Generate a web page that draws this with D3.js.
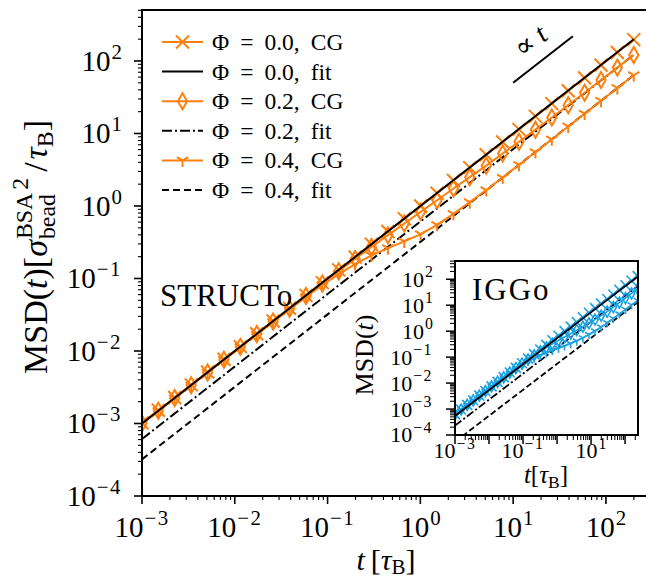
<!DOCTYPE html>
<html><head><meta charset="utf-8">
<script src="https://cdn.jsdelivr.net/npm/d3@7"></script>
<style>body{margin:0;background:#fff}svg{display:block}</style>
</head><body><svg id="c" width="646" height="581"></svg>
<script>
// ---------- data ----------
const tMain = [0.001,0.0015,0.00225,0.00339,0.00509,0.00764,0.01148,0.01726,0.02588,0.0389,0.0585,0.0877,0.1318,0.198,0.297,0.447,0.671,1.007,1.514,2.275,3.41,5.13,7.71,11.56,17.38,26.1,39.2,58.9,88.5,132.7,199.5];
const cgPhi00 = [0.00102,0.00152,0.00228,0.00341,0.00512,0.00768,0.0115,0.0173,0.0259,0.0389,0.0584,0.0876,0.1315,0.197,0.296,0.445,0.668,1.0,1.5,2.25,3.38,5.08,7.62,11.4,17.2,25.8,38.8,58.2,87.5,131,197];
const cgPhi02 = [0.00100,0.00150,0.00225,0.00338,0.00507,0.0076,0.0114,0.0171,0.0256,0.0383,0.0572,0.0851,0.126,0.186,0.272,0.396,0.574,0.83,1.2,1.74,2.5,3.6,5.3,7.7,11.3,16.6,24.6,36.5,54.5,81,121];
const cgPhi04 = [0.00099,0.00149,0.00223,0.00335,0.00502,0.00752,0.0113,0.0169,0.0252,0.0375,0.0555,0.0808,0.115,0.158,0.208,0.262,0.325,0.41,0.55,0.78,1.13,1.66,2.47,3.7,5.55,8.3,12.5,18.8,28.3,42.5,64];
const fitT = [0.001, 200];
const fitPhi00 = [0.001, 200];
const fitPhi02 = [0.00061, 122];
const fitPhi04 = [0.00032, 64];
const slopeT = [10, 44];
const slopeV = [50, 220];
// inset (IGGo)
const tInset = [0.001,0.00151,0.00228,0.00344,0.0052,0.00785,0.01186,0.0179,0.027,0.0408,0.0617,0.0931,0.1406,0.2123,0.3206,0.4842,0.7311,1.104,1.667,2.518,3.802,5.741,8.67,13.09,19.77,29.85,45.08,68.08,102.8,155.2,234.4];
const insCg00 = [0.00064,0.00096,0.00145,0.00218,0.00329,0.00496,0.0075,0.0113,0.017,0.0256,0.0386,0.058,0.0874,0.131,0.197,0.296,0.445,0.668,1.0,1.5,2.26,3.4,5.1,7.7,11.5,17.3,26,39,58.5,88,132];
const insCg02 = [0.00064,0.00096,0.00145,0.00217,0.00327,0.00491,0.0074,0.0111,0.0165,0.0255,0.038,0.056,0.081,0.117,0.167,0.235,0.325,0.445,0.6,0.81,1.09,1.48,2.02,2.8,3.95,5.7,8.4,12.5,18.8,28.3,42.7];
const insCg04 = [0.00064,0.00096,0.00145,0.00218,0.00328,0.00493,0.0074,0.0111,0.0166,0.0245,0.035,0.05,0.068,0.09,0.115,0.145,0.18,0.22,0.27,0.335,0.42,0.55,0.74,1.02,1.45,2.1,3.1,4.6,6.9,10.3,15.4];
const insFitT = [0.001, 234.4];
const insFit00 = [0.00054, 126.6];
const insFit02 = [0.00023, 54];
const insFit04 = [0.000055, 12.9];
const xTickExp = [-3,-2,-1,0,1,2];
const yTickExp = [-4,-3,-2,-1,0,1,2];
const insXTickExp = [-3,-1,1];
const insYTickExp = [-4,-3,-2,-1,0,1,2];
const legendPhi = ["0.0","0.0","0.2","0.2","0.4","0.4"];
const legendKind = ["CG","fit","CG","fit","CG","fit"];

// ---------- setup ----------
const FONT = "'Liberation Serif', 'DejaVu Serif', serif";
const ORANGE = "#ff7f0e";
const BLUE = "#1ba1e2";
const svg = d3.select("#c").style("font-family", FONT);

const M = {l:142, r:647, t:10, b:496};
const x = d3.scaleLog().domain([1e-3, 277]).range([M.l, M.r]);
const y = d3.scaleLog().domain([1e-4, 505]).range([M.b, M.t]);

const I = {l:455, r:638, t:261, b:435};
const xi = d3.scaleLog().domain([1e-3, 240]).range([I.l, I.r]);
const yi = d3.scaleLog().domain([1e-4, 505]).range([I.b, I.t]);

svg.append("defs").call(d=>{
  d.append("clipPath").attr("id","cm").append("rect").attr("x",M.l).attr("y",M.t).attr("width",M.r-M.l).attr("height",M.b-M.t);
  d.append("clipPath").attr("id","ci").append("rect").attr("x",I.l).attr("y",I.t).attr("width",I.r-I.l).attr("height",I.b-I.t);
});

function markerPath(type, s){
  const h = s/2;
  if(type==="x") return `M${-h},${-h}L${h},${h}M${-h},${h}L${h},${-h}`;
  if(type==="d") return `M0,${-h}L${h*0.58},0L0,${h}L${-h*0.58},0Z`;
  if(type==="tri") return `M0,0L0,${h}M0,0L${-h*0.87},${-h*0.5}M0,0L${h*0.87},${-h*0.5}`;
}

function drawSeries(g, xs, ys, tArr, vArr, color, mtype, msize, lw){
  const line = d3.line().x((d,i)=>xs(tArr[i])).y(d=>ys(d));
  g.append("path").attr("d", line(vArr)).attr("fill","none").attr("stroke",color).attr("stroke-width",lw);
  g.selectAll(null).data(vArr).join("path")
    .attr("transform",(d,i)=>`translate(${xs(tArr[i])},${ys(d)})`)
    .attr("d", markerPath(mtype, msize)).attr("fill","none").attr("stroke",color).attr("stroke-width",lw);
}
function drawFit(g, xs, ys, tArr, vArr, dash, lw){
  const line = d3.line().x((d,i)=>xs(tArr[i])).y(d=>ys(d));
  g.append("path").attr("d", line(vArr)).attr("fill","none").attr("stroke","#000").attr("stroke-width",lw)
   .attr("stroke-dasharray", dash);
}
function powLabel(g, xp, yp, exp, fs, anchor){
  const t = g.append("text").attr("x",xp).attr("y",yp).attr("font-size",fs).attr("text-anchor",anchor).attr("fill","#000");
  t.append("tspan").text("10");
  t.append("tspan").attr("dy",-fs*0.42).attr("dx",1).attr("font-size",fs*0.72).attr("letter-spacing",exp<0?1.5:0)
   .text(exp<0?"−"+(-exp):String(exp));
}
function drawAxes(g, xs, ys, B, xExp, yExp, fs, maj, mnr, lw, xLabDy, yLabDx){
  const [x0,x1] = xs.domain(); const [y0,y1] = ys.domain();
  for(let e=Math.floor(Math.log10(x0)); e<=Math.ceil(Math.log10(x1)); e++){
    for(let k=1;k<10;k++){
      const v = k*Math.pow(10,e); if(v<x0*0.999||v>x1) continue;
      g.append("line").attr("x1",xs(v)).attr("x2",xs(v)).attr("y1",B.b).attr("y2",B.b+(k===1?maj:mnr)).attr("stroke","#000").attr("stroke-width",k===1?lw:lw*0.7);
    }
  }
  for(let e=Math.floor(Math.log10(y0)); e<=Math.ceil(Math.log10(y1)); e++){
    for(let k=1;k<10;k++){
      const v = k*Math.pow(10,e); if(v<y0*0.999||v>y1) continue;
      g.append("line").attr("y1",ys(v)).attr("y2",ys(v)).attr("x1",B.l).attr("x2",B.l-(k===1?maj:mnr)).attr("stroke","#000").attr("stroke-width",k===1?lw:lw*0.7);
    }
  }
  xExp.forEach(e=>powLabel(g, xs(Math.pow(10,e)), B.b+xLabDy, e, fs, "middle"));
  yExp.forEach(e=>powLabel(g, B.l-yLabDx, ys(Math.pow(10,e))+fs*0.34, e, fs, "end"));
}
function richText(g, pieces, xp, yp, fs, anchor){
  const grp = g.append("g");
  let cx = 0;
  pieces.forEach(p=>{
    if(p.stack){
      let w=0;
      p.stack.forEach(q=>{
        const el = grp.append("text").attr("font-size",fs*(q.s||1)).attr("font-style",q.it?"italic":"normal").attr("x",cx).attr("y",q.sh||0).text(q.t);
        w = Math.max(w, el.node().getComputedTextLength());
      });
      cx += w + (p.gap||0);
    } else {
      const el = grp.append("text").attr("font-size",fs*(p.s||1)).attr("font-style",p.it?"italic":"normal").attr("x",cx+(p.dx||0)).attr("y",p.sh||0).text(p.t);
      cx += el.node().getComputedTextLength() + (p.dx||0) + (p.gap||0);
    }
  });
  const off = anchor==="middle" ? -cx/2 : (anchor==="end"? -cx : 0);
  grp.attr("transform", `translate(${xp+off},${yp})`);
  return grp;
}

// ---------- main plot ----------
const gm = svg.append("g");
const gd = gm.append("g").attr("clip-path","url(#cm)");
drawFit(gd, x, y, fitT, fitPhi04, "7,4", 2);
drawFit(gd, x, y, fitT, fitPhi02, "10,3,2,3", 2);
drawSeries(gd, x, y, tMain, cgPhi04, ORANGE, "tri", 13, 2);
drawSeries(gd, x, y, tMain, cgPhi02, ORANGE, "d", 16, 2);
drawSeries(gd, x, y, tMain, cgPhi00, ORANGE, "x", 13, 2);
drawFit(gd, x, y, fitT, fitPhi00, null, 2);

// slope marker
gm.append("path").attr("d", d3.line().x((d,i)=>x(slopeT[i])).y(d=>y(d))(slopeV)).attr("stroke","#000").attr("stroke-width",2).attr("fill","none");
const ang = Math.atan2(y(slopeV[1])-y(slopeV[0]), x(slopeT[1])-x(slopeT[0]))*180/Math.PI;
{
  const mx = (x(slopeT[0])+x(slopeT[1]))/2 - 7, my = (y(slopeV[0])+y(slopeV[1]))/2 - 11;
  const tt = gm.append("text").attr("transform",`translate(${mx},${my}) rotate(${ang})`).attr("text-anchor","middle").attr("font-size",28);
  tt.append("tspan").text("∝ ");
  tt.append("tspan").attr("font-style","italic").text("t");
}

// frame
gm.append("path").attr("d",`M${M.l},${M.b}L${M.l},${M.t}L${M.r},${M.t}L${M.r},${M.b}Z`).attr("fill","none").attr("stroke","#000").attr("stroke-width",2);
drawAxes(gm, x, y, M, xTickExp, yTickExp, 29, 8, 4, 1.6, 41, 20);

// axis labels
richText(gm, [{t:"t",it:1,gap:6},{t:"["},{t:"τ",it:1},{t:"B",s:0.7,sh:4},{t:"]"}], 386, 570, 30, "middle");
richText(gm.append("g").attr("transform","translate(47,0) rotate(-90)"),
  [{t:"MSD("},{t:"t",it:1},{t:")["},{t:"σ",it:1,gap:1},
   {stack:[{t:"BSA",s:0.7,sh:-15},{t:"bead",s:0.7,sh:8}],gap:3},
   {t:"2",s:0.7,sh:-19,gap:6},{t:"/",gap:3},{t:"τ",it:1},{t:"B",s:0.7,sh:6},{t:"]"}], -247, 0, 34, "middle");

gm.append("text").attr("x",160).attr("y",306).attr("font-size",31).text("STRUCTo");

// legend
const lg = svg.append("g");
const legSpec = [
  {type:"cg", m:"x"},{type:"fit",dash:null},{type:"cg",m:"d"},{type:"fit",dash:"10,3,2,3"},{type:"cg",m:"tri"},{type:"fit",dash:"7,4"}];
legSpec.forEach((s,i)=>{
  const yy = 42 + i*29.6;
  const g = lg.append("g");
  if(s.type==="cg"){
    g.append("line").attr("x1",162).attr("x2",203).attr("y1",yy).attr("y2",yy).attr("stroke",ORANGE).attr("stroke-width",2);
    g.append("path").attr("transform",`translate(182.5,${yy})`).attr("d",markerPath(s.m, s.m==="d"?16:13)).attr("fill","none").attr("stroke",ORANGE).attr("stroke-width",2);
  } else {
    g.append("line").attr("x1",162).attr("x2",203).attr("y1",yy).attr("y2",yy).attr("stroke","#000").attr("stroke-width",2).attr("stroke-dasharray",s.dash);
  }
  richText(g, [{t:"Φ",gap:11},{t:"=",gap:11},{t:legendPhi[i]+",",gap:11},{t:legendKind[i]}], 212, yy+8, 23.5, "start");
});

// ---------- inset ----------
const gi = svg.append("g");
gi.append("rect").attr("x",I.l).attr("y",I.t).attr("width",I.r-I.l).attr("height",I.b-I.t).attr("fill","#fff");
const gid = gi.append("g").attr("clip-path","url(#ci)");
drawFit(gid, xi, yi, insFitT, insFit04, "6,3", 1.8);
drawFit(gid, xi, yi, insFitT, insFit02, "8,2.5,2,2.5", 1.8);
drawSeries(gid, xi, yi, tInset, insCg04, BLUE, "tri", 9, 1.6);
drawSeries(gid, xi, yi, tInset, insCg02, BLUE, "d", 11, 1.6);
drawSeries(gid, xi, yi, tInset, insCg00, BLUE, "x", 10, 1.6);
drawFit(gid, xi, yi, insFitT, insFit00, null, 1.8);
gi.append("rect").attr("x",I.l).attr("y",I.t).attr("width",I.r-I.l).attr("height",I.b-I.t).attr("fill","none").attr("stroke","#000").attr("stroke-width",2);
drawAxes(gi, xi, yi, I, insXTickExp, insYTickExp, 22, 9, 5, 1.5, 23, 22);
gi.append("text").attr("x",472).attr("y",300).attr("font-size",31).attr("letter-spacing",2).text("IGGo");
richText(gi, [{t:"t",it:1},{t:"["},{t:"τ",it:1},{t:"B",s:0.7,sh:5},{t:"]"}], 546, 483, 25, "middle");
richText(gi.append("g").attr("transform","translate(373,0) rotate(-90)"), [{t:"MSD("},{t:"t",it:1},{t:")"}], -355, 0, 26, "middle");
</script></body></html>
